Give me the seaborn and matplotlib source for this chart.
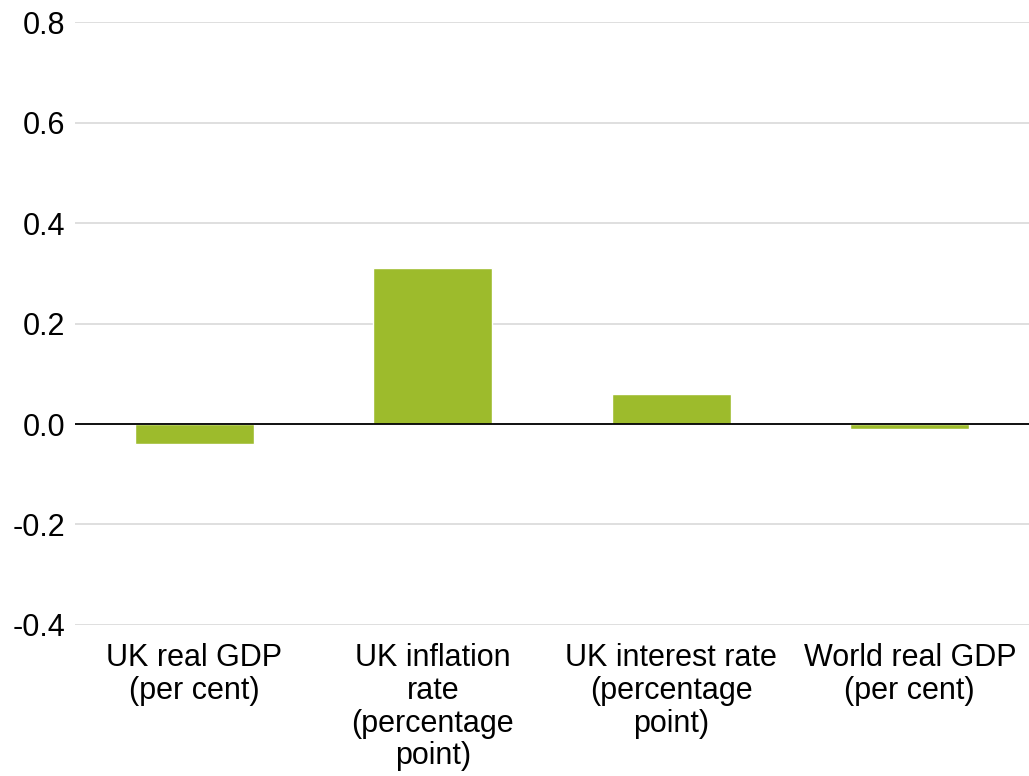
import pandas as pd
import seaborn as sns
import matplotlib.pyplot as plt

categories = [
    'UK real GDP\n(per cent)',
    'UK inflation\nrate\n(percentage\npoint)',
    'UK interest rate\n(percentage\npoint)',
    'World real GDP\n(per cent)',
]
values = [-0.04, 0.31, 0.06, -0.01]
yticks = [-0.4, -0.2, 0.0, 0.2, 0.4, 0.6, 0.8]

BAR_COLOR = '#9dbb2c'


def main():
    sns.set_style('white')
    plt.rcParams['font.family'] = ['Liberation Sans', 'DejaVu Sans']

    df = pd.DataFrame({'category': categories, 'value': values})

    fig = plt.figure(figsize=(10.29, 7.76), dpi=100)
    ax = fig.add_axes([0.073, 0.1946, 0.927, 0.777])

    sns.barplot(data=df, x='category', y='value', color=BAR_COLOR,
                saturation=1, width=0.5, ax=ax, zorder=3)

    ax.set_ylim(-0.4, 0.8)
    ax.set_yticks(yticks)
    ax.set_yticklabels([f'{t:.1f}' for t in yticks])
    ax.yaxis.grid(True, color='#d9d9d9', linewidth=1.2, zorder=0)
    ax.set_axisbelow(True)
    ax.axhline(0, color='black', linewidth=1.3, zorder=4)

    for s in ax.spines.values():
        s.set_visible(False)

    ax.tick_params(axis='y', length=0, labelsize=22, pad=7, labelcolor='black')
    ax.tick_params(axis='x', length=0, labelsize=22, pad=13, labelcolor='black')
    for lbl in ax.get_xticklabels():
        lbl.set_linespacing(1.12)
        lbl.set_verticalalignment('top')
    ax.set_xlabel('')
    ax.set_ylabel('')

    fig.savefig('out.png', dpi=100, facecolor='white')


if __name__ == '__main__':
    main()
